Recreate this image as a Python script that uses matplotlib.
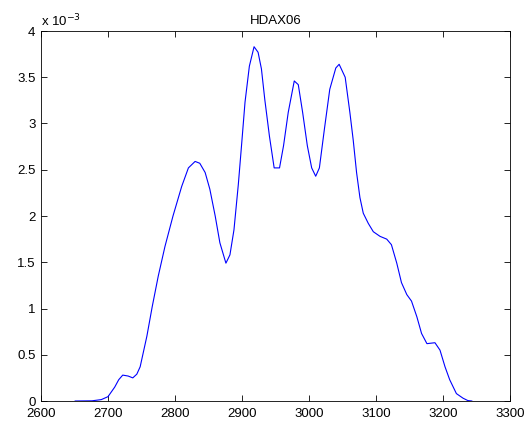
import matplotlib
matplotlib.use("Agg")
import matplotlib.pyplot as plt
from matplotlib.ticker import FuncFormatter, MultipleLocator
import numpy as np

plt.rcParams['font.family'] = ['Liberation Sans', 'DejaVu Sans']

title = "HDAX06"
x_vals = [2651, 2676, 2690, 2700, 2710, 2716, 2722, 2730, 2737, 2743, 2748, 2758,
          2766, 2775, 2785, 2797, 2810, 2820, 2830, 2837, 2845, 2852, 2860, 2867,
          2876, 2882, 2888, 2894.5, 2899.5, 2904.5, 2911, 2918, 2924, 2929, 2934,
          2941, 2948, 2956, 2962, 2969, 2978, 2984, 2990.5, 2997.5, 3004, 3010,
          3015.5, 3023, 3031, 3040, 3045, 3054, 3061, 3066, 3071, 3076, 3081, 3088.5,
          3096, 3106, 3116, 3123, 3131, 3138, 3146, 3153, 3161, 3168, 3176, 3188,
          3195.5, 3203, 3210, 3220, 3230, 3237, 3243]
y_vals = [0.0, 0.002, 0.015, 0.047, 0.15, 0.23, 0.28, 0.27, 0.25, 0.29, 0.37, 0.70,
          1.02, 1.35, 1.67, 2.00, 2.32, 2.52, 2.59, 2.57, 2.47, 2.29, 2.00, 1.71,
          1.49, 1.58, 1.85, 2.34, 2.78, 3.23, 3.62, 3.83, 3.77, 3.59, 3.26,
          2.86, 2.52, 2.52, 2.76, 3.12, 3.46, 3.42, 3.12, 2.76, 2.52, 2.43,
          2.52, 2.94, 3.37, 3.60, 3.64, 3.50, 3.12, 2.82, 2.47, 2.20, 2.03, 1.92,
          1.83, 1.78, 1.75, 1.69, 1.49, 1.28, 1.15, 1.08, 0.91, 0.73, 0.62, 0.63,
          0.55, 0.37, 0.23, 0.08, 0.03, 0.005, 0.0]
y_scale = 1e-3

fig = plt.figure(figsize=(5.29, 4.23), dpi=100)
ax = fig.add_axes([41/529, 22/423, 469/529, 370/423])
ax.plot(x_vals, np.array(y_vals) * y_scale, color=(0, 0, 1), lw=0.8)
ax.set_xlim(2600, 3300)
ax.set_ylim(0, 4e-3)
ax.xaxis.set_major_locator(MultipleLocator(100))
ax.yaxis.set_major_locator(MultipleLocator(0.5e-3))
ax.yaxis.set_major_formatter(FuncFormatter(lambda v, p: "%g" % round(v / y_scale, 3)))
ax.tick_params(direction='in', top=True, right=True, labelsize=9.5, length=4, width=0.6)
ax.tick_params(axis='x', pad=5)
ax.tick_params(axis='y', pad=4)
for s in ax.spines.values():
    s.set_linewidth(0.6)
ax.set_title(title, fontsize=9.5, pad=5)
ax.text(0.0, 1.005, r"x 10$^{-3}$", transform=ax.transAxes, fontsize=9.5, ha='left', va='bottom')
fig.savefig("out.png", dpi=100)
